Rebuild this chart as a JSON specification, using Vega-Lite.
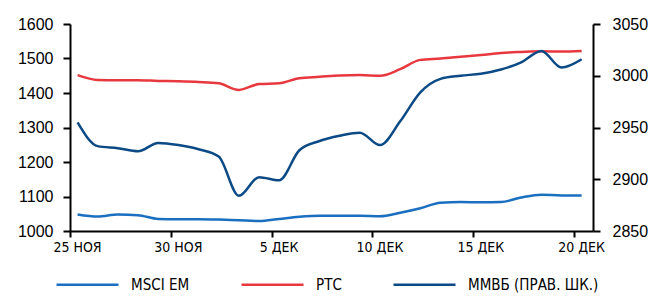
{
  "$schema": "https://vega.github.io/schema/vega-lite/v6.json",
  "width": 523,
  "height": 207,
  "autosize": {"type": "none"},
  "padding": {"left": 70, "top": 24, "right": 60, "bottom": 71},
  "background": "white",
  "config": {
    "view": {"stroke": null},
    "font": "DejaVu Sans Condensed",
    "axis": {
      "grid": false,
      "domainColor": "black",
      "tickColor": "black",
      "labelColor": "black",
      "domainWidth": 2,
      "tickWidth": 2,
      "title": null
    }
  },
  "data": {
    "values": [
      {"date": "2012-11-25T09:00:00Z", "series": "MSCI EM", "value": 1048},
      {"date": "2012-11-26T09:00:00Z", "series": "MSCI EM", "value": 1042},
      {"date": "2012-11-27T09:00:00Z", "series": "MSCI EM", "value": 1048},
      {"date": "2012-11-28T09:00:00Z", "series": "MSCI EM", "value": 1046},
      {"date": "2012-11-29T09:00:00Z", "series": "MSCI EM", "value": 1035},
      {"date": "2012-11-30T09:00:00Z", "series": "MSCI EM", "value": 1034},
      {"date": "2012-12-01T09:00:00Z", "series": "MSCI EM", "value": 1034},
      {"date": "2012-12-02T09:00:00Z", "series": "MSCI EM", "value": 1033},
      {"date": "2012-12-03T09:00:00Z", "series": "MSCI EM", "value": 1031},
      {"date": "2012-12-04T09:00:00Z", "series": "MSCI EM", "value": 1029},
      {"date": "2012-12-05T09:00:00Z", "series": "MSCI EM", "value": 1035},
      {"date": "2012-12-06T09:00:00Z", "series": "MSCI EM", "value": 1041},
      {"date": "2012-12-07T09:00:00Z", "series": "MSCI EM", "value": 1044},
      {"date": "2012-12-08T09:00:00Z", "series": "MSCI EM", "value": 1044},
      {"date": "2012-12-09T09:00:00Z", "series": "MSCI EM", "value": 1044},
      {"date": "2012-12-10T09:00:00Z", "series": "MSCI EM", "value": 1043},
      {"date": "2012-12-11T09:00:00Z", "series": "MSCI EM", "value": 1053},
      {"date": "2012-12-12T09:00:00Z", "series": "MSCI EM", "value": 1066},
      {"date": "2012-12-13T09:00:00Z", "series": "MSCI EM", "value": 1082},
      {"date": "2012-12-14T09:00:00Z", "series": "MSCI EM", "value": 1084},
      {"date": "2012-12-15T09:00:00Z", "series": "MSCI EM", "value": 1083},
      {"date": "2012-12-16T09:00:00Z", "series": "MSCI EM", "value": 1084},
      {"date": "2012-12-17T09:00:00Z", "series": "MSCI EM", "value": 1097},
      {"date": "2012-12-18T09:00:00Z", "series": "MSCI EM", "value": 1105},
      {"date": "2012-12-19T09:00:00Z", "series": "MSCI EM", "value": 1103},
      {"date": "2012-12-20T09:00:00Z", "series": "MSCI EM", "value": 1103},
      {"date": "2012-11-25T09:00:00Z", "series": "РТС", "value": 1452},
      {"date": "2012-11-26T09:00:00Z", "series": "РТС", "value": 1438},
      {"date": "2012-11-27T09:00:00Z", "series": "РТС", "value": 1437},
      {"date": "2012-11-28T09:00:00Z", "series": "РТС", "value": 1437},
      {"date": "2012-11-29T09:00:00Z", "series": "РТС", "value": 1435},
      {"date": "2012-11-30T09:00:00Z", "series": "РТС", "value": 1434},
      {"date": "2012-12-01T09:00:00Z", "series": "РТС", "value": 1432},
      {"date": "2012-12-02T09:00:00Z", "series": "РТС", "value": 1428},
      {"date": "2012-12-03T09:00:00Z", "series": "РТС", "value": 1409},
      {"date": "2012-12-04T09:00:00Z", "series": "РТС", "value": 1426},
      {"date": "2012-12-05T09:00:00Z", "series": "РТС", "value": 1428},
      {"date": "2012-12-06T09:00:00Z", "series": "РТС", "value": 1443},
      {"date": "2012-12-07T09:00:00Z", "series": "РТС", "value": 1447},
      {"date": "2012-12-08T09:00:00Z", "series": "РТС", "value": 1451},
      {"date": "2012-12-09T09:00:00Z", "series": "РТС", "value": 1452},
      {"date": "2012-12-10T09:00:00Z", "series": "РТС", "value": 1450},
      {"date": "2012-12-11T09:00:00Z", "series": "РТС", "value": 1469},
      {"date": "2012-12-12T09:00:00Z", "series": "РТС", "value": 1496},
      {"date": "2012-12-13T09:00:00Z", "series": "РТС", "value": 1500},
      {"date": "2012-12-14T09:00:00Z", "series": "РТС", "value": 1505},
      {"date": "2012-12-15T09:00:00Z", "series": "РТС", "value": 1510},
      {"date": "2012-12-16T09:00:00Z", "series": "РТС", "value": 1516},
      {"date": "2012-12-17T09:00:00Z", "series": "РТС", "value": 1519},
      {"date": "2012-12-18T09:00:00Z", "series": "РТС", "value": 1521},
      {"date": "2012-12-19T09:00:00Z", "series": "РТС", "value": 1520},
      {"date": "2012-12-20T09:00:00Z", "series": "РТС", "value": 1522},
      {"date": "2012-11-25T09:00:00Z", "series": "ММВБ (ПРАВ. ШК.)", "value": 2955},
      {"date": "2012-11-26T09:00:00Z", "series": "ММВБ (ПРАВ. ШК.)", "value": 2932},
      {"date": "2012-11-27T09:00:00Z", "series": "ММВБ (ПРАВ. ШК.)", "value": 2930},
      {"date": "2012-11-28T09:00:00Z", "series": "ММВБ (ПРАВ. ШК.)", "value": 2927},
      {"date": "2012-11-29T09:00:00Z", "series": "ММВБ (ПРАВ. ШК.)", "value": 2935},
      {"date": "2012-11-30T09:00:00Z", "series": "ММВБ (ПРАВ. ШК.)", "value": 2933},
      {"date": "2012-12-01T09:00:00Z", "series": "ММВБ (ПРАВ. ШК.)", "value": 2929},
      {"date": "2012-12-02T09:00:00Z", "series": "ММВБ (ПРАВ. ШК.)", "value": 2922},
      {"date": "2012-12-03T09:00:00Z", "series": "ММВБ (ПРАВ. ШК.)", "value": 2884},
      {"date": "2012-12-04T09:00:00Z", "series": "ММВБ (ПРАВ. ШК.)", "value": 2902},
      {"date": "2012-12-05T09:00:00Z", "series": "ММВБ (ПРАВ. ШК.)", "value": 2899},
      {"date": "2012-12-06T09:00:00Z", "series": "ММВБ (ПРАВ. ШК.)", "value": 2928},
      {"date": "2012-12-07T09:00:00Z", "series": "ММВБ (ПРАВ. ШК.)", "value": 2937},
      {"date": "2012-12-08T09:00:00Z", "series": "ММВБ (ПРАВ. ШК.)", "value": 2942},
      {"date": "2012-12-09T09:00:00Z", "series": "ММВБ (ПРАВ. ШК.)", "value": 2945},
      {"date": "2012-12-10T09:00:00Z", "series": "ММВБ (ПРАВ. ШК.)", "value": 2933},
      {"date": "2012-12-11T09:00:00Z", "series": "ММВБ (ПРАВ. ШК.)", "value": 2956},
      {"date": "2012-12-12T09:00:00Z", "series": "ММВБ (ПРАВ. ШК.)", "value": 2984},
      {"date": "2012-12-13T09:00:00Z", "series": "ММВБ (ПРАВ. ШК.)", "value": 2997},
      {"date": "2012-12-14T09:00:00Z", "series": "ММВБ (ПРАВ. ШК.)", "value": 3000},
      {"date": "2012-12-15T09:00:00Z", "series": "ММВБ (ПРАВ. ШК.)", "value": 3002},
      {"date": "2012-12-16T09:00:00Z", "series": "ММВБ (ПРАВ. ШК.)", "value": 3006},
      {"date": "2012-12-17T09:00:00Z", "series": "ММВБ (ПРАВ. ШК.)", "value": 3013},
      {"date": "2012-12-18T09:00:00Z", "series": "ММВБ (ПРАВ. ШК.)", "value": 3024},
      {"date": "2012-12-19T09:00:00Z", "series": "ММВБ (ПРАВ. ШК.)", "value": 3008},
      {"date": "2012-12-20T09:00:00Z", "series": "ММВБ (ПРАВ. ШК.)", "value": 3016}
    ]
  },
  "encoding": {
    "x": {
      "field": "date",
      "type": "temporal",
      "scale": {"type": "utc", "domain": ["2012-11-25T00:00:00Z", "2012-12-20T22:30:00Z"]},
      "axis": {
        "values": ["2012-11-25T00:00:00Z", "2012-11-30T00:00:00Z", "2012-12-05T00:00:00Z", "2012-12-10T00:00:00Z", "2012-12-15T00:00:00Z", "2012-12-20T00:00:00Z"],
        "labelExpr": "utcdate(datum.value) + (utcmonth(datum.value) == 10 ? ' НОЯ' : ' ДЕК')",
        "labelFont": "DejaVu Sans Condensed",
        "labelFontSize": 14,
        "labelOffset": 7,
        "labelFlush": false,
        "labelOverlap": false,
        "tickSize": 6,
        "labelPadding": 3
      }
    },
    "color": {
      "field": "series",
      "type": "nominal",
      "scale": {
        "domain": ["MSCI EM", "РТС", "ММВБ (ПРАВ. ШК.)"],
        "range": ["#1a6fc0", "#e8383f", "#0b4a85"]
      },
      "legend": {
        "orient": "none",
        "legendX": -15,
        "legendY": 228,
        "direction": "horizontal",
        "title": null,
        "symbolType": "stroke",
        "symbolSize": 3844,
        "symbolStrokeWidth": 2.5,
        "labelFont": "DejaVu Sans Condensed",
        "labelFontSize": 15,
        "labelColor": "black",
        "labelOffset": 11,
        "columnPadding": 46,
        "labelLimit": 300
      }
    }
  },
  "layer": [
    {
      "transform": [{"filter": "datum.series !== 'ММВБ (ПРАВ. ШК.)'"}],
      "mark": {"type": "line", "interpolate": "monotone", "strokeWidth": 2.5},
      "encoding": {
        "y": {
          "field": "value",
          "type": "quantitative",
          "scale": {"domain": [1000, 1600], "nice": false, "zero": false},
          "axis": {
            "values": [1000, 1100, 1200, 1300, 1400, 1500, 1600],
            "format": "d",
            "labelFont": "Liberation Sans",
            "labelFontSize": 16,
            "tickSize": 7,
            "labelPadding": 10
          }
        }
      }
    },
    {
      "transform": [{"filter": "datum.series === 'ММВБ (ПРАВ. ШК.)'"}],
      "mark": {"type": "line", "interpolate": "monotone", "strokeWidth": 2.5},
      "encoding": {
        "y": {
          "field": "value",
          "type": "quantitative",
          "scale": {"domain": [2850, 3050], "nice": false, "zero": false},
          "axis": {
            "orient": "right",
            "values": [2850, 2900, 2950, 3000, 3050],
            "format": "d",
            "labelFont": "Liberation Sans",
            "labelFontSize": 16,
            "tickSize": 7,
            "labelPadding": 12
          }
        }
      }
    }
  ],
  "resolve": {"scale": {"y": "independent"}}
}
